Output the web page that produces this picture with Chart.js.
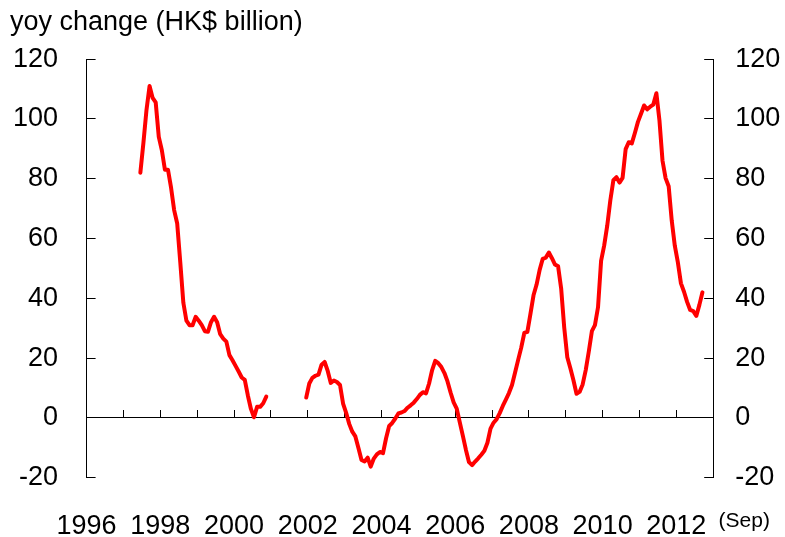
<!DOCTYPE html>
<html>
<head>
<meta charset="utf-8">
<script src="https://cdn.jsdelivr.net/npm/chart.js@4/dist/chart.umd.min.js"></script>
<style>
html,body{margin:0;padding:0;background:#ffffff;}
#wrap{width:785px;height:537px;position:relative;overflow:hidden;}
canvas{display:block;}
</style>
</head>
<body>
<div id="wrap"><canvas id="c" width="785" height="537"></canvas></div>
<script>
// ---- data (HK$ billion, year-on-year change, monthly) ----
const titleText = 'yoy change (HK$ billion)';
const endNote = '(Sep)';

// first run: Jun 1997 .. Nov 2000
const run1Start = {year: 1997, month: 6};
const run1Values = [82, 92, 103, 111, 107, 105.5, 94,
  89.5, 83, 83, 77, 69.5, 65, 52, 38.5, 32.5, 31, 31, 33.8,
  32.5, 31, 29, 28.8, 32, 33.8, 32, 28, 26.5, 25.5, 21, 19.3,
  17.4, 15.5, 13.5, 12.7, 7.5, 3, 0.2, 3.7, 3.7, 4.9, 7.1];

// second run: Dec 2001 .. Sep 2012
const run2Start = {year: 2001, month: 12};
const run2Values = [6.8,
  11.5, 13.4, 14.1, 14.5, 17.8, 18.7, 15.7, 11.7, 12.5, 12, 11, 4.8,
  1.7, -2, -4.6, -6.2, -10.1, -14.1, -14.6, -13.3, -16.3, -13.6, -12.2, -11.4,
  -11.8, -6.8, -2.7, -1.7, -0.2, 1.5, 1.8, 2.3, 3.4, 4.2, 5.1, 6.3,
  7.7, 8.6, 8.2, 11.5, 16, 19.1, 18.3, 17, 15, 12.2, 8.5, 5.2,
  3.1, -1.5, -6, -10.7, -14.8, -15.8, -14.6, -13.5, -12.3, -11, -8.3, -3.6,
  -1.6, -0.4, 1.6, 4, 6.1, 8.3, 11, 15.2, 19.4, 23.5, 28.4, 28.8,
  34.8, 41, 44.6, 49.5, 53.2, 53.6, 55.3, 53.4, 51.3, 50.7, 43.3, 30.2,
  20.3, 16.6, 12.6, 8.1, 8.7, 11.2, 16, 22.2, 29, 31, 37, 52.5,
  57.6, 64.3, 72.7, 79.5, 80.5, 78.7, 80.3, 89.9, 92.2, 91.8, 95.3, 99,
  101.7, 104.5, 103.2, 104.1, 104.8, 108.6, 99.5, 86, 80.2, 77.5, 66, 57.6,
  52, 45, 42.2, 38.8, 36.1, 35.7, 34.1, 37.8, 42];

const xYearLabels = [1996, 1998, 2000, 2002, 2004, 2006, 2008, 2010, 2012];
const xYearTicks = [1996, 1997, 1998, 1999, 2000, 2001, 2002, 2003, 2004, 2005, 2006, 2007, 2008, 2009, 2010, 2011, 2012, 2013];
const yTickValues = [120, 100, 80, 60, 40, 20, 0, -20];
const xRange = [1996, 2013];
const yRange = [-20, 120];

// ---- build points (month placed at mid-month) ----
function runToPoints(start, values) {
  return values.map((v, i) => {
    const m = start.month - 1 + i;
    return {x: start.year + (m + 0.5) / 12, y: v};
  });
}
const pts1 = runToPoints(run1Start, run1Values);
const pts2 = runToPoints(run2Start, run2Values);
const gapPoint = {x: (pts1[pts1.length - 1].x + pts2[0].x) / 2, y: null};
const points = pts1.concat([gapPoint], pts2);

const FONT = "'Liberation Sans', Arial, sans-serif";
const tickFont = {family: FONT, size: 27, lineHeight: 1.2};

const sepNote = {
  id: 'sepNote',
  afterDraw(chart) {
    const {ctx, chartArea} = chart;
    ctx.save();
    ctx.font = "21px " + FONT;
    ctx.fillStyle = '#000';
    ctx.textAlign = 'center';
    ctx.textBaseline = 'alphabetic';
    ctx.fillText(endNote, chartArea.right + 31, 527);
    ctx.restore();
  }
};

new Chart(document.getElementById('c').getContext('2d'), {
  type: 'line',
  data: {
    datasets: [{
      data: points,
      borderColor: '#ff0000',
      borderWidth: 4,
      pointRadius: 0,
      tension: 0,
      spanGaps: false,
      borderCapStyle: 'round',
      borderJoinStyle: 'round',
      xAxisID: 'x',
      yAxisID: 'y'
    }]
  },
  options: {
    responsive: false,
    animation: false,
    devicePixelRatio: 1,
    layout: {padding: {left: 10, right: 0, top: 0, bottom: 0}},
    plugins: {
      legend: {display: false},
      tooltip: {enabled: false},
      title: {
        display: true, text: titleText, align: 'start', color: '#000',
        font: {family: FONT, size: 27, weight: 'normal', lineHeight: 1.2},
        padding: {top: 6, bottom: 20.7}
      }
    },
    scales: {
      x: {
        type: 'linear', position: 'bottom', min: xRange[0], max: xRange[1],
        grid: {display: false}, border: {display: false},
        afterBuildTicks: s => { s.ticks = xYearLabels.map(v => ({value: v})); },
        ticks: {color: '#000', font: tickFont, padding: 25, maxRotation: 0, autoSkip: false,
                callback: v => String(v)},
        afterFit: s => { s.height = 59.3; }
      },
      xZero: {
        type: 'linear', position: {y: 0}, min: xRange[0], max: xRange[1],
        grid: {drawOnChartArea: false, drawTicks: true, tickLength: -8, color: '#000', lineWidth: 1},
        border: {display: true, color: '#000', width: 1},
        afterBuildTicks: s => { s.ticks = xYearTicks.map(v => ({value: v})); },
        ticks: {display: false}
      },
      y: {
        position: 'left', min: yRange[0], max: yRange[1],
        afterBuildTicks: s => { s.ticks = yTickValues.map(v => ({value: v})); },
        grid: {drawOnChartArea: false, tickLength: -9, color: '#000'},
        border: {display: true, color: '#000', width: 1},
        ticks: {color: '#000', font: tickFont, padding: 37.6},
        afterFit: s => { s.width = 76.6; }
      },
      y2: {
        position: 'right', min: yRange[0], max: yRange[1],
        afterBuildTicks: s => { s.ticks = yTickValues.map(v => ({value: v})); },
        grid: {drawOnChartArea: false, tickLength: -9, color: '#000'},
        border: {display: true, color: '#000', width: 1},
        ticks: {color: '#000', font: tickFont, padding: 31},
        afterFit: s => { s.width = 71.8; }
      }
    }
  },
  plugins: [sepNote]
});
</script>
</body>
</html>
